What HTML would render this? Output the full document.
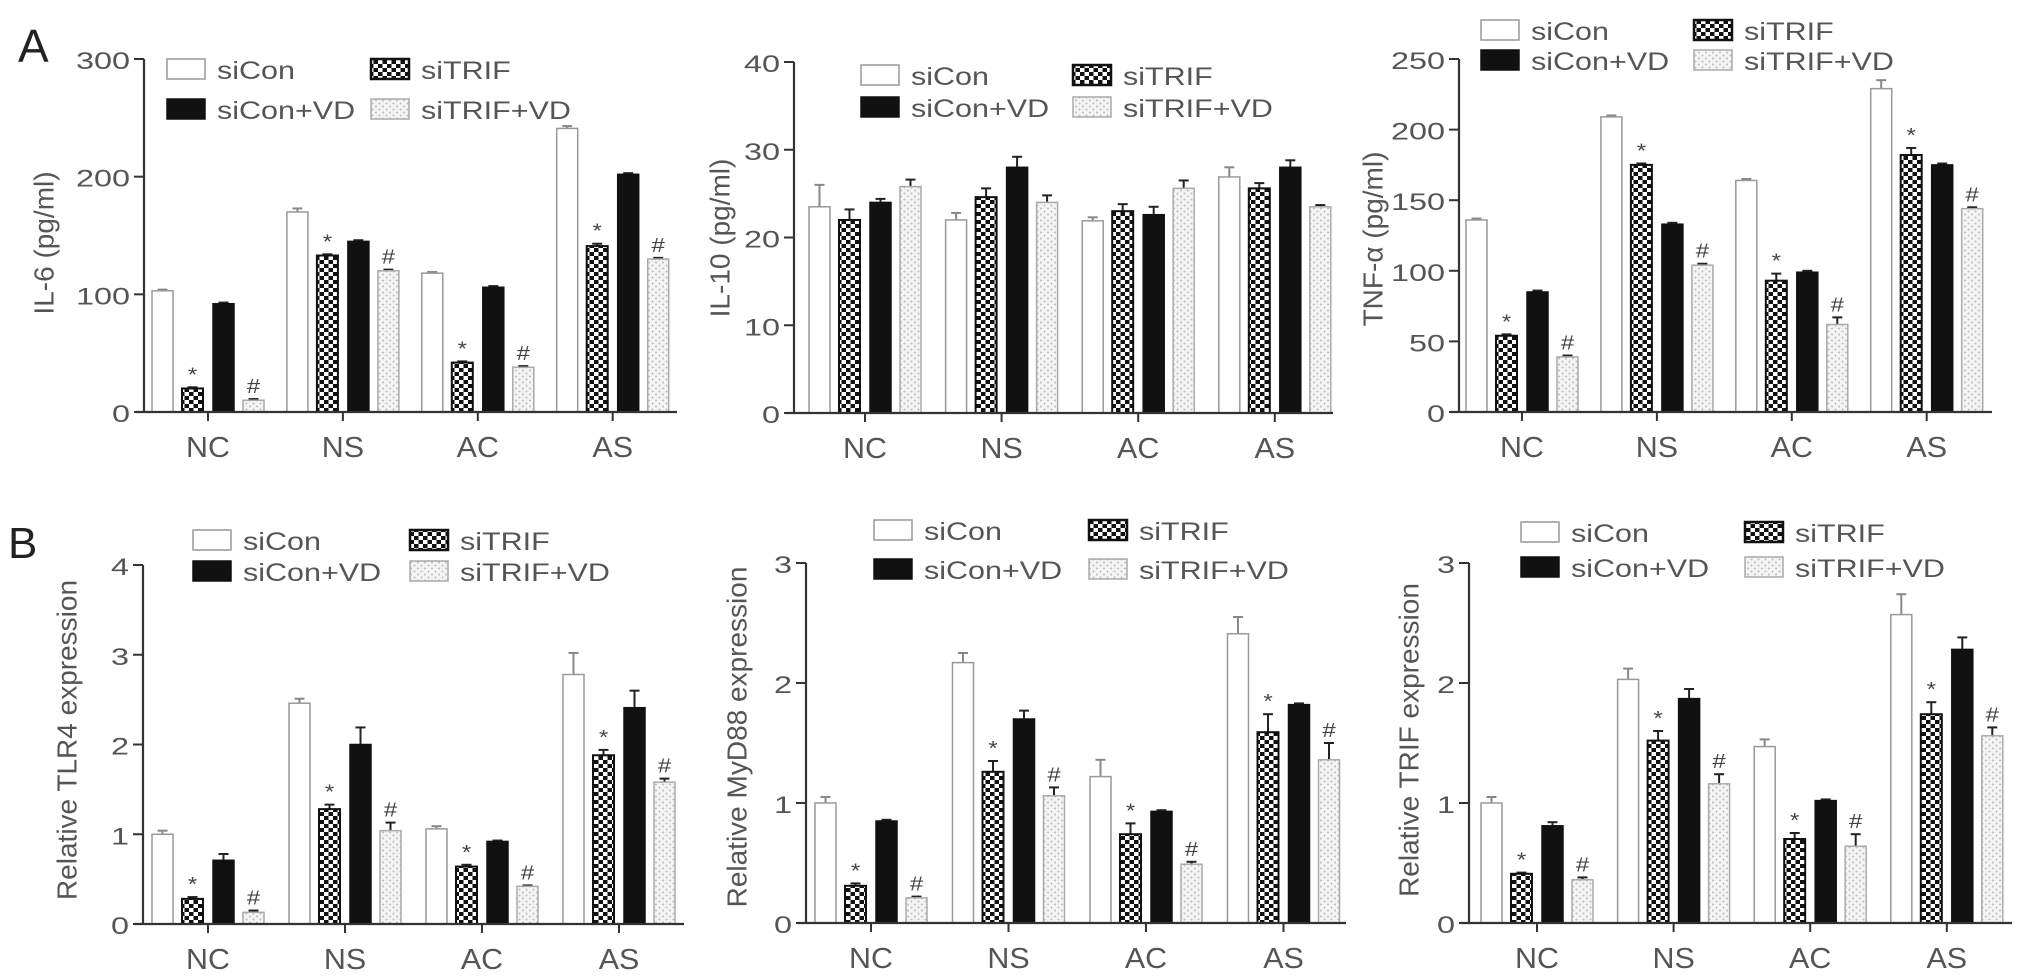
<!DOCTYPE html>
<html><head><meta charset="utf-8">
<style>
html,body{margin:0;padding:0;background:#fff;}
svg{display:block;font-family:"Liberation Sans",sans-serif;}
.tick{font-size:24px;fill:#555;}
.xl{font-size:29px;fill:#555;}
.yl{font-size:28px;fill:#555;}
.lg{font-size:25px;fill:#555;}
.mk{font-size:20px;fill:#444;}
</style></head>
<body>
<svg id="fig" width="2032" height="980" viewBox="0 0 2032 980">
<defs>
<pattern id="chk" width="9" height="8" patternUnits="userSpaceOnUse">
<rect width="9" height="8" fill="#fff"/><rect width="4.5" height="4" fill="#111"/><rect x="4.5" y="4" width="4.5" height="4" fill="#111"/>
</pattern>
<pattern id="dot" width="7" height="6" patternUnits="userSpaceOnUse">
<rect width="7" height="6" fill="#f4f4f4"/><circle cx="1.5" cy="1.5" r="1" fill="#bbb"/><circle cx="5" cy="4.5" r="1" fill="#bbb"/>
</pattern>
</defs>
<text x="18" y="62" font-size="46" fill="#222">A</text>
<text x="8" y="558" font-size="44" fill="#222">B</text>
</svg>
<script>
const categories = ["NC","NS","AC","AS"];
const seriesNames = ["siCon","siTRIF","siCon+VD","siTRIF+VD"];

const il6SiCon = [103,170,118,241];
const il6SiTRIF = [20,133,42,141];
const il6SiConVD = [92,145,106,202];
const il6SiTRIFVD = [10,120,38,130];
const il6Err = [[1,3,1,2],[1,1,1,2],[1,1,1,1],[1,1,1,1]];
const il6Ticks = [0,100,200,300];

const il10SiCon = [23.5,22,21.9,26.9];
const il10SiTRIF = [22,24.6,23,25.6];
const il10SiConVD = [24,28,22.6,28];
const il10SiTRIFVD = [25.8,24,25.6,23.5];
const il10Err = [[2.5,0.8,0.4,1.1],[1.2,1,0.8,0.6],[0.4,1.2,0.9,0.8],[0.8,0.8,0.9,0.2]];
const il10Ticks = [0,10,20,30,40];

const tnfSiCon = [136,209,164,229];
const tnfSiTRIF = [54,175,93,182];
const tnfSiConVD = [85,133,99,175];
const tnfSiTRIFVD = [39,104,62,144];
const tnfErr = [[1,1,1,6],[1,1,5,5],[1,1,1,1],[1,1,5,1]];
const tnfTicks = [0,50,100,150,200,250];

const tlr4SiCon = [1.0,2.46,1.06,2.78];
const tlr4SiTRIF = [0.28,1.28,0.64,1.88];
const tlr4SiConVD = [0.71,2.0,0.92,2.41];
const tlr4SiTRIFVD = [0.13,1.04,0.42,1.58];
const tlr4Err = [[0.04,0.05,0.03,0.24],[0.02,0.05,0.02,0.06],[0.07,0.19,0.01,0.19],[0.02,0.09,0.01,0.04]];
const tlr4Ticks = [0,1,2,3,4];

const myd88SiCon = [1.0,2.17,1.22,2.41];
const myd88SiTRIF = [0.31,1.26,0.74,1.59];
const myd88SiConVD = [0.85,1.7,0.93,1.82];
const myd88SiTRIFVD = [0.21,1.06,0.49,1.36];
const myd88Err = [[0.05,0.08,0.14,0.14],[0.02,0.09,0.09,0.15],[0.01,0.07,0.01,0.01],[0.01,0.07,0.02,0.14]];
const myd88Ticks = [0,1,2,3];

const trifSiCon = [1.0,2.03,1.47,2.57];
const trifSiTRIF = [0.41,1.52,0.70,1.74];
const trifSiConVD = [0.81,1.87,1.02,2.28];
const trifSiTRIFVD = [0.36,1.16,0.64,1.56];
const trifErr = [[0.05,0.09,0.06,0.17],[0.01,0.08,0.05,0.1],[0.03,0.08,0.01,0.1],[0.02,0.08,0.1,0.07]];
const trifTicks = [0,1,2,3];

const panels = [
 {id:"il6",label:"IL-6 (pg/ml)",vals:[il6SiCon,il6SiTRIF,il6SiConVD,il6SiTRIFVD],err:il6Err,ticks:il6Ticks,max:300,ax:144,yTop:59,y0:412,c0:208,step:134.9,xEnd:677,lx:167,lx2:371,ly:59,ly2:99,labX:46,labY:243},
 {id:"il10",label:"IL-10 (pg/ml)",vals:[il10SiCon,il10SiTRIF,il10SiConVD,il10SiTRIFVD],err:il10Err,ticks:il10Ticks,max:40,ax:794,yTop:62,y0:413,c0:865,step:136.6,xEnd:1333,lx:861,lx2:1073,ly:65,ly2:97,labX:722,labY:238},
 {id:"tnf",label:"TNF-\u03b1 (pg/ml)",vals:[tnfSiCon,tnfSiTRIF,tnfSiConVD,tnfSiTRIFVD],err:tnfErr,ticks:tnfTicks,max:250,ax:1459,yTop:59,y0:412,c0:1522,step:134.9,xEnd:1992,lx:1481,lx2:1694,ly:20,ly2:50,labX:1375,labY:239},
 {id:"tlr4",label:"Relative TLR4 expression",vals:[tlr4SiCon,tlr4SiTRIF,tlr4SiConVD,tlr4SiTRIFVD],err:tlr4Err,ticks:tlr4Ticks,max:4,ax:143,yTop:565,y0:924,c0:208,step:137,xEnd:684,lx:193,lx2:410,ly:530,ly2:561,labX:69,labY:740},
 {id:"myd88",label:"Relative MyD88 expression",vals:[myd88SiCon,myd88SiTRIF,myd88SiConVD,myd88SiTRIFVD],err:myd88Err,ticks:myd88Ticks,max:3,ax:806,yTop:563,y0:923,c0:871,step:137.5,xEnd:1346,lx:874,lx2:1089,ly:520,ly2:559,labX:739,labY:737},
 {id:"trif",label:"Relative TRIF expression",vals:[trifSiCon,trifSiTRIF,trifSiConVD,trifSiTRIFVD],err:trifErr,ticks:trifTicks,max:3,ax:1469,yTop:563,y0:923,c0:1537,step:136.6,xEnd:2012,lx:1521,lx2:1745,ly:522,ly2:557,labX:1411,labY:740}
];

const NS="http://www.w3.org/2000/svg";
const svg=document.getElementById("fig");
function mk(tag,attrs,parent){const e=document.createElementNS(NS,tag);for(const k in attrs)e.setAttribute(k,attrs[k]);(parent||svg).appendChild(e);return e;}
function stxt(x,y,sx,cls,anchor,parent){return mk("text",{x:0,y:0,transform:"translate("+x+" "+y+") scale("+sx+" 1)","text-anchor":anchor,class:cls},parent);}
const fills=["#fff","url(#chk)","#111","url(#dot)"];
const strokes=["#999","#111","#111","#aaa"];
const offs=[-45.5,-15.5,15.5,45.5];
const BW=21;

panels.forEach(p=>{
 const g=mk("g",{});
 
 
 const yS=v=>p.y0-(v/p.max)*(p.y0-p.yTop);
 const xS=i=>p.c0+i*p.step;
 p.vals.forEach((arr,s)=>{
  arr.forEach((v,i)=>{
   const cx=xS(i)+offs[s], top=yS(v), e=p.err[s][i];
   const et=yS(v+e);
   const col=s===0?"#888":"#222";
   const el=mk("line",{x1:cx,x2:cx,y1:top,y2:et,stroke:col,"stroke-width":2},g);
   
   
   const cap=mk("line",{x1:cx-5,x2:cx+5,y1:et,y2:et,stroke:col,"stroke-width":2},g);
   
   
   const r=mk("rect",{x:cx-BW/2,y:top,width:BW,height:p.y0-top,fill:fills[s],stroke:strokes[s],"stroke-width":s===1?2:1.5},g);
   
   
   if(p.id!=="il10"&&(s===1||s===3)){
    const t=stxt(cx,et-6,1.2,"mk","middle",g);
    t.textContent=s===1?"*":"#";
    
    
   }
  });
 });
 const ya=mk("line",{x1:p.ax,x2:p.ax,y1:p.yTop,y2:p.y0,stroke:"#333","stroke-width":2.2},g);
 
 
 const xa=mk("line",{x1:p.ax-8,x2:p.xEnd,y1:p.y0,y2:p.y0,stroke:"#333","stroke-width":2.2},g);
 
 
 p.ticks.forEach(t=>{
  const y=yS(t);
  mk("line",{x1:p.ax-10,x2:p.ax,y1:y,y2:y,stroke:"#333","stroke-width":2},g);
  const tl=stxt(p.ax-14,y+10,1.35,"tick","end",g);
  tl.textContent=t;
  
  
 });
 categories.forEach((c,i)=>{
  const x=xS(i);
  mk("line",{x1:x,x2:x,y1:p.y0,y2:p.y0+9,stroke:"#333","stroke-width":2},g);
  const tl=stxt(x,p.y0+45,1.05,"xl","middle",g);
  tl.textContent=c;
  
  
 });
 const yl=mk("text",{x:p.labX,y:p.labY,"text-anchor":"middle",class:"yl",transform:"rotate(-90 "+p.labX+" "+p.labY+")","dominant-baseline":"middle"},g);
 yl.textContent=p.label;
 
 
 const pos=[[p.lx,p.ly],[p.lx2,p.ly],[p.lx,p.ly2],[p.lx2,p.ly2]];
 pos.forEach((q,s)=>{
  const r=mk("rect",{x:q[0],y:q[1],width:38,height:20,fill:fills[s],stroke:strokes[s],"stroke-width":s===1?2.5:1.5},g);
  
  
  const t=stxt(q[0]+50,q[1]+20,1.22,"lg","start",g);
  t.textContent=seriesNames[s];
  
  
 });
});
</script>
</body></html>
